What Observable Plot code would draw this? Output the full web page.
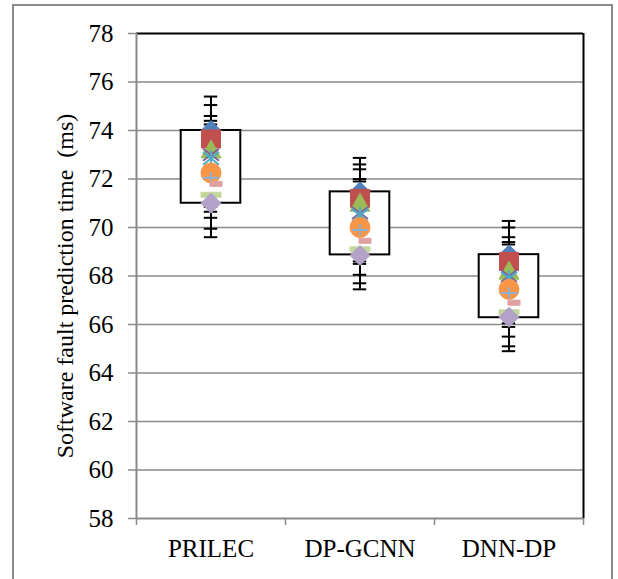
<!DOCTYPE html>
<html><head><meta charset="utf-8">
<script src="https://cdn.jsdelivr.net/npm/d3@7"></script>
<script src="https://cdn.jsdelivr.net/npm/@observablehq/plot@0.6"></script>
<style>
html,body{margin:0;padding:0;background:#fff;overflow:hidden;}
#wrap{position:relative;width:618px;height:579px;}
#border{position:absolute;left:12px;top:4px;width:597px;height:620px;border:2px solid #8a8a8a;pointer-events:none;}
svg text{white-space:pre;font-family:'Liberation Serif','Times New Roman',serif !important;}
</style></head><body><div id="wrap"><div id="border"></div></div>
<script>
// ---- data ----
const categories = ["PRILEC", "DP-GCNN", "DNN-DP"];
const yTicks = [58, 60, 62, 64, 66, 68, 70, 72, 74, 76, 78];
const gridTicks = [60, 62, 64, 66, 68, 70, 72, 74, 76];
const yTitle = "Software fault prediction time  (ms)";
const boxLow  = [71.0, 68.87, 66.28];
const boxHigh = [74.0, 71.47, 68.88];
const errorSize = [1.4, 1.4, 1.4];
const s1  = [74.0, 71.47, 68.87];
const s2  = [73.65, 71.2, 68.6];
const s3  = [73.2, 71.0, 68.2];
const s4  = [73.0, 70.6, 68.0];
const s5  = [72.85, 70.5, 67.9];
const s6  = [72.25, 70.0, 67.45];
const s7  = [72.05, 69.9, 67.3];
const s8  = [71.8, 69.45, 66.9];
const s9  = [71.35, 69.1, 66.5];
const s10 = [71.0, 68.85, 66.3];

// ---- marker shapes ----
const rad = s => Math.sqrt(s / Math.PI);
const diamondSym = {draw(c, s){const r = rad(s); c.moveTo(0,-r); c.lineTo(r,0); c.lineTo(0,r); c.lineTo(-r,0); c.closePath();}};
const squareSym = {draw(c, s){const r = rad(s); c.rect(-r,-r*0.95,2*r,1.9*r);}};
const triSym = {draw(c, s){const r = rad(s); c.moveTo(0,-r); c.lineTo(r,r*0.8); c.lineTo(-r,r*0.8); c.closePath();}};
const xSym = {draw(c, s){const r = rad(s); c.moveTo(-r,-r*0.75); c.lineTo(r,r*0.75); c.moveTo(-r,r*0.75); c.lineTo(r,-r*0.75);}};
const starSym = {draw(c, s){const r = rad(s); c.moveTo(-r,-r*0.8); c.lineTo(r,r*0.8); c.moveTo(-r,r*0.8); c.lineTo(r,-r*0.8); c.moveTo(0,-r); c.lineTo(0,r);}};
const circSym = {draw(c, s){const r = rad(s); c.moveTo(r,0); c.arc(0,0,r,0,2*Math.PI);}};
const plusSym = {draw(c, s){const r = rad(s); c.moveTo(-r,0); c.lineTo(r,0); c.moveTo(0,-r*0.7); c.lineTo(0,r*0.7);}};
const dashSym = {draw(c, s){const r = rad(s); c.rect(-r,-2.5,2*r,5);}};

const seriesStyles = [
  {vals: s1,  symbol: diamondSym, r: 10,  fill: "#4F81BD"},
  {vals: s2,  symbol: squareSym,  r: 9.5, fill: "#C0504D"},
  {vals: s3,  symbol: triSym,     r: 10,  fill: "#9BBB59"},
  {vals: s4,  symbol: xSym,       r: 8,   stroke: "#7F63A1"},
  {vals: s5,  symbol: starSym,    r: 8,   stroke: "#4BACC6"},
  {vals: s6,  symbol: circSym,    r: 10,  fill: "#F79646"},
  {vals: s7,  symbol: plusSym,    r: 8,   stroke: "#8DB0DA"},
  {vals: s8,  symbol: dashSym,    r: 6,   fill: "#E0A09F", dx: 5},
  {vals: s9,  symbol: dashSym,    r: 10,  fill: "#C3D69B"},
  {vals: s10, symbol: diamondSym, r: 10,  fill: "#B3A2C7"}
];

const pos = i => i + 0.5;
const boxes = categories.map((c, i) => ({x1: pos(i) - 0.2, x2: pos(i) + 0.2, y1: boxLow[i], y2: boxHigh[i]}));
const points = [];
seriesStyles.forEach((st, k) => st.vals.forEach((v, i) => points.push({k, x: pos(i), v, e: errorSize[i]})));
const capHalf = 0.045;

const serif = "'Liberation Serif', 'Times New Roman', serif";
const gray = "#8a8a8a";
const marks = [
  Plot.ruleY(gridTicks, {stroke: gray, strokeWidth: 1.5}),
  Plot.ruleY([78], {stroke: "#000", strokeWidth: 2}),
  Plot.ruleX([categories.length], {stroke: "#000", strokeWidth: 2}),
  Plot.ruleX([0], {stroke: gray, strokeWidth: 2}),
  Plot.ruleY([58], {stroke: gray, strokeWidth: 2}),
  // error bars
  Plot.ruleX(points, {x: "x", y1: d => d.v - d.e, y2: d => d.v + d.e, stroke: "#000", strokeWidth: 2}),
  Plot.ruleY(points, {y: d => d.v + d.e, x1: d => d.x - capHalf, x2: d => d.x + capHalf, stroke: "#000", strokeWidth: 2}),
  Plot.ruleY(points, {y: d => d.v - d.e, x1: d => d.x - capHalf, x2: d => d.x + capHalf, stroke: "#000", strokeWidth: 2}),
  // boxes
  Plot.rect(boxes, {x1: "x1", x2: "x2", y1: "y1", y2: "y2", fill: "#fff", stroke: "#000", strokeWidth: 2}),
  // markers
  ...seriesStyles.map((st, k) => Plot.dot(points.filter(d => d.k === k), {
    x: "x", y: "v", r: st.r, symbol: st.symbol,
    fill: st.fill || "none", stroke: st.stroke || st.fill, strokeWidth: st.stroke ? 2 : 1,
    dx: st.dx || 0
  })),
  // axes
  Plot.axisY({ticks: yTicks, tickSize: 8, stroke: gray, strokeWidth: 1.5, tickFormat: () => ""}),
  Plot.text(yTicks, {x: 0, y: d => d, text: d => String(d), textAnchor: "end", dx: -23, fontSize: 25,
    fill: "#000", fontFamily: serif}),
  Plot.axisX({ticks: [0, 1, 2, 3], tickSize: 7, stroke: gray, strokeWidth: 1.5, tickFormat: () => ""}),
  Plot.axisX({ticks: categories.map((c, i) => pos(i)), tickSize: 0, tickPadding: 21, fill: "#000",
    tickFormat: d => categories[Math.floor(d)], fontSize: 25, fontFamily: serif}),
  Plot.text([yTitle], {text: d => d, frameAnchor: "left", textAnchor: "middle", dx: -71, dy: 10, rotate: -90,
    fontSize: 24, fill: "#000", fontFamily: serif})
];

const chart = Plot.plot({
  width: 618, height: 579,
  marginTop: 33, marginBottom: 61, marginLeft: 136, marginRight: 35,
  style: {fontFamily: serif, background: "transparent", overflow: "visible"},
  x: {type: "linear", domain: [0, categories.length], axis: null},
  y: {domain: [58, 78], axis: null},
  marks
});
document.getElementById("wrap").appendChild(chart);
</script></body></html>
